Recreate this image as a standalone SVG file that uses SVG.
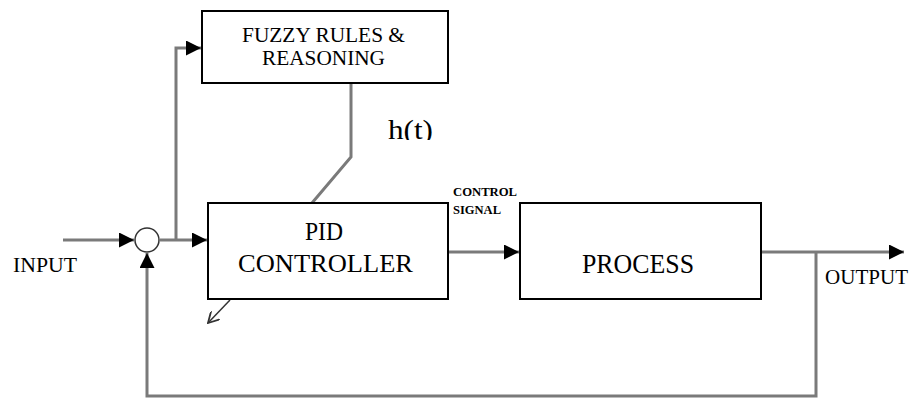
<svg xmlns="http://www.w3.org/2000/svg" width="915" height="399" viewBox="0 0 915 399">
  <style>
    .box { fill: #ffffff; stroke: #000000; stroke-width: 2; }
    .wire { fill: none; stroke: #7a7a7a; stroke-width: 3; }
    .lbl { font-family: "Liberation Serif", "Times New Roman", serif; fill: #000000; }
  </style>
  <defs>
    <marker id="head" viewBox="0 0 10 10" refX="10" refY="5" markerWidth="5" markerHeight="5" orient="auto" markerUnits="strokeWidth">
      <path d="M0,0 L10,5 L0,10 Z" fill="#000000"/>
    </marker>
    <marker id="open" viewBox="0 0 10 10" refX="9" refY="5" markerWidth="8" markerHeight="8" orient="auto" markerUnits="strokeWidth">
      <path d="M0,0 L9,5 L0,10" fill="none" stroke="#333333" stroke-width="1.5"/>
    </marker>
    <clipPath id="cut">
      <rect x="370" y="100" width="80" height="40"/>
    </clipPath>
  </defs>
  <rect width="915" height="399" fill="#ffffff"/>

  <g id="connectors">
    <!-- input to summing junction -->
    <line class="wire" x1="63" y1="240" x2="134" y2="240" marker-end="url(#head)"/>
    <!-- junction to PID -->
    <line class="wire" x1="160" y1="240" x2="207" y2="240" marker-end="url(#head)"/>
    <!-- branch up to fuzzy block -->
    <polyline class="wire" points="176,240 176,48 201,48" marker-end="url(#head)"/>
    <!-- fuzzy output h(t) into PID -->
    <polyline class="wire" points="351,83 351,157 312,203"/>
    <!-- control signal -->
    <line class="wire" x1="449" y1="252" x2="519" y2="252" marker-end="url(#head)"/>
    <!-- process output -->
    <line class="wire" x1="762" y1="252" x2="904" y2="252" marker-end="url(#head)"/>
    <!-- feedback loop -->
    <polyline class="wire" points="816,252 816,396 147,396 147,253" marker-end="url(#head)"/>
    <!-- adaptation arrow -->
    <line x1="230" y1="300" x2="208" y2="323" stroke="#333333" stroke-width="1.5" marker-end="url(#open)"/>
  </g>

  <g id="sum">
    <circle cx="147" cy="240" r="12" fill="#ffffff" stroke="#333333" stroke-width="1.5"/>
  </g>

  <g id="fuzzy">
    <rect class="box" x="202" y="11" width="246" height="72"/>
    <text class="lbl" x="242" y="42" font-size="20" textLength="163" lengthAdjust="spacingAndGlyphs">FUZZY RULES &amp;</text>
    <text class="lbl" x="262" y="65" font-size="20" textLength="123" lengthAdjust="spacingAndGlyphs">REASONING</text>
  </g>

  <g id="pid">
    <rect class="box" x="208" y="203" width="240" height="96"/>
    <text class="lbl" x="305" y="240" font-size="25" textLength="38" lengthAdjust="spacingAndGlyphs">PID</text>
    <text class="lbl" x="238" y="272" font-size="25" textLength="175" lengthAdjust="spacingAndGlyphs">CONTROLLER</text>
  </g>

  <g id="process">
    <rect class="box" x="520" y="203" width="241" height="96"/>
    <text class="lbl" x="582" y="273" font-size="27" textLength="112" lengthAdjust="spacingAndGlyphs">PROCESS</text>
  </g>

  <g id="labels">
    <text class="lbl" x="13" y="272" font-size="21" textLength="64" lengthAdjust="spacingAndGlyphs">INPUT</text>
    <text class="lbl" x="825" y="284" font-size="21" textLength="83" lengthAdjust="spacingAndGlyphs">OUTPUT</text>
    <text class="lbl" x="453" y="196" font-size="13" font-weight="bold" textLength="64" lengthAdjust="spacingAndGlyphs">CONTROL</text>
    <text class="lbl" x="453" y="214" font-size="13" font-weight="bold" textLength="48" lengthAdjust="spacingAndGlyphs">SIGNAL</text>
    <text class="lbl" x="388" y="139" font-size="27" textLength="45" lengthAdjust="spacingAndGlyphs" clip-path="url(#cut)">h(t)</text>
  </g>
</svg>
